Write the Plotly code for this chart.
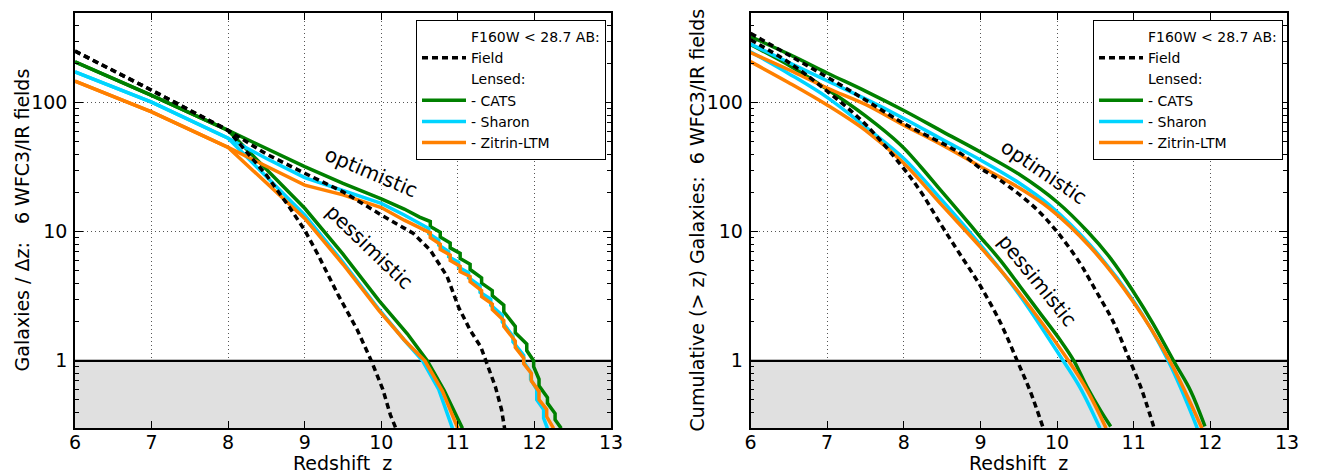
import math
import plotly.graph_objects as go

# ------------------------------------------------------------------
# DATA
# ------------------------------------------------------------------
# ---- Left panel: galaxies per unit redshift (differential) ----
L_field_opt_z = [6, 7, 8, 8.5, 9, 9.5, 10, 10.3, 10.42, 10.64, 10.86, 11.01, 11.16, 11.3, 11.38, 11.49, 11.57, 11.61]
L_field_opt_v = [251, 125, 61, 40, 28.4, 20.4, 13.5, 10.6, 9.7, 7.2, 4.5, 2.6, 1.73, 1.28, 0.95, 0.63, 0.42, 0.3]
L_field_pes_z = [6, 7, 8, 8.5, 8.8, 8.91, 9.0, 9.17, 9.43, 9.69, 9.87, 10.02, 10.12, 10.19]
L_field_pes_v = [251, 125, 61, 27.5, 15.5, 12.2, 10.3, 6.7, 3.3, 1.72, 1.0, 0.6, 0.38, 0.3]

L_cats_opt_z = [6, 7, 8, 8.5, 9, 9.5, 10, 10.3, 10.5, 10.64, 10.64, 10.77, 10.77, 10.9, 10.9, 11.03, 11.03,
                11.16, 11.16, 11.31, 11.31, 11.45, 11.45, 11.6, 11.6, 11.75, 11.75, 11.9, 11.9, 11.99, 11.99,
                12.06, 12.06, 12.17, 12.17, 12.27, 12.27, 12.35]
L_cats_opt_v = [207, 114, 61, 44, 32, 23.7, 18, 15, 13, 12.0, 11.0, 9.9, 9.1, 8.2, 7.5, 6.8, 6.2,
                5.6, 5.1, 4.4, 4.0, 3.5, 3.2, 2.7, 2.4, 1.85, 1.65, 1.35, 1.2, 1.0, 0.9,
                0.72, 0.64, 0.52, 0.47, 0.39, 0.35, 0.3]
L_cats_pes_z = [6, 7, 8, 8.5, 9, 9.5, 9.97, 10.34, 10.6, 10.82, 11.06]
L_cats_pes_v = [207, 114, 61, 30.4, 15.2, 6.7, 2.93, 1.62, 1.0, 0.59, 0.3]

L_sharon_opt_z = [6, 7, 8, 8.5, 9, 9.5, 10, 10.3, 10.5, 10.62, 10.62, 10.75, 10.75, 10.88, 10.88, 11.01, 11.01,
                  11.14, 11.14, 11.29, 11.29, 11.43, 11.43, 11.58, 11.58, 11.72, 11.72, 11.86, 11.86, 11.95, 11.95,
                  12.03, 12.03, 12.12, 12.12, 12.17]
L_sharon_opt_v = [173, 101, 53, 37, 26.3, 21.0, 16.6, 13.5, 11.6, 10.6, 9.7, 8.6, 7.9, 7.0, 6.4, 5.8, 5.3,
                  4.8, 4.4, 3.8, 3.4, 3.0, 2.7, 2.25, 2.0, 1.55, 1.4, 1.1, 0.98, 0.82, 0.72,
                  0.6, 0.5, 0.42, 0.36, 0.3]
L_sharon_pes_z = [6, 7, 8, 8.5, 9, 9.5, 9.97, 10.3, 10.54, 10.75, 10.93]
L_sharon_pes_v = [173, 101, 53, 26.7, 13.5, 5.8, 2.5, 1.45, 1.0, 0.6, 0.3]

L_zitrin_opt_z = [6, 7, 8, 8.5, 9, 9.5, 10, 10.3, 10.5, 10.64, 10.64, 10.77, 10.77, 10.9, 10.9, 11.03, 11.03,
                  11.16, 11.16, 11.31, 11.31, 11.45, 11.45, 11.6, 11.6, 11.75, 11.75, 11.86, 11.86, 11.96, 11.96,
                  12.06, 12.06, 12.16, 12.16, 12.25]
L_zitrin_opt_v = [147, 85, 45, 32, 23, 19.3, 15.4, 12.3, 10.8, 9.8, 9.0, 8.0, 7.3, 6.6, 6.0, 5.4, 4.9,
                  4.5, 4.1, 3.5, 3.15, 2.75, 2.5, 2.05, 1.85, 1.42, 1.27, 1.05, 0.95, 0.8, 0.7,
                  0.58, 0.5, 0.42, 0.37, 0.3]
L_zitrin_pes_z = [6, 7, 8, 8.5, 9, 9.5, 9.97, 10.3, 10.57, 10.8, 11.0]
L_zitrin_pes_v = [147, 85, 45, 24, 12.7, 5.6, 2.45, 1.45, 1.0, 0.58, 0.3]

# ---- Right panel: cumulative (> z) galaxies ----
R_field_opt_z = [6, 6.5, 7, 7.5, 8, 8.74, 9, 9.26, 9.7, 10, 10.3, 10.43, 10.57, 10.69, 10.78, 10.93, 11.09, 11.26]
R_field_opt_v = [345, 234, 158, 105, 69, 40.5, 31, 25, 15.6, 10, 5.7, 4.2, 3.0, 2.25, 1.75, 1.07, 0.63, 0.31]
R_field_pes_z = [6, 6.5, 7, 7.5, 7.96, 8.22, 8.48, 8.74, 9.0, 9.26, 9.48, 9.65, 9.82]
R_field_pes_v = [308, 205, 123, 68, 33, 20.5, 11.5, 6.6, 3.8, 1.98, 1.0, 0.58, 0.3]

R_cats_opt_z = [6, 6.5, 7, 7.5, 8, 8.5, 9, 9.5, 10, 10.4, 10.7, 11.0, 11.25, 11.52, 11.74, 11.93]
R_cats_opt_v = [325, 238, 170, 123, 87, 60, 41.5, 28, 17, 10, 6.2, 3.4, 1.95, 1.0, 0.59, 0.31]
R_cats_pes_z = [6, 6.5, 7, 7.5, 7.96, 8.22, 8.48, 8.74, 9.0, 9.26, 9.52, 9.78, 10.04, 10.22, 10.39, 10.57, 10.7]
R_cats_pes_v = [282, 195, 127, 79, 47, 31.9, 21, 13.9, 9.1, 6.0, 3.75, 2.33, 1.45, 1.0, 0.63, 0.41, 0.31]

R_sharon_opt_z = [6, 6.5, 7, 7.5, 8, 8.5, 9, 9.5, 9.9, 10.43, 11.0, 11.45, 11.83]
R_sharon_opt_v = [285, 205, 148, 107, 75.5, 52, 36, 24, 16.1, 7.9, 2.9, 1.0, 0.3]
R_sharon_pes_z = [6, 6.5, 7, 7.5, 8, 8.5, 9, 9.5, 10.08, 10.3, 10.56]
R_sharon_pes_v = [248, 168, 110, 65, 37, 17.5, 7.9, 3.3, 1.0, 0.62, 0.3]

R_zitrin_opt_z = [6, 6.5, 7, 7.5, 8, 8.5, 9, 9.5, 9.9, 10.43, 10.98, 11.47, 11.89]
R_zitrin_opt_v = [245, 180, 130, 97, 67, 47, 32, 22, 15.2, 7.65, 2.95, 1.0, 0.3]
R_zitrin_pes_z = [6, 6.5, 7, 7.5, 8, 8.5, 9, 9.5, 10.15, 10.4, 10.64]
R_zitrin_pes_v = [208, 143, 96, 61, 34, 16, 7.6, 3.4, 1.0, 0.58, 0.3]

# shaded "fewer than one galaxy" region and the N = 1 line
shade_z = [6, 13, 13, 6]
shade_v = [0.2, 0.2, 1, 1]
one_z = [6, 13]
one_v = [1, 1]

x_range = [6, 13]
y_range = [0.3, 500]
y_tickvals = [1, 10, 100]
y_ticktext = ["1", "10", "100"]
y_minor_vals = [0.3, 0.4, 0.5, 0.6, 0.7, 0.8, 0.9, 2, 3, 4, 5, 6, 7, 8, 9,
                20, 30, 40, 50, 60, 70, 80, 90, 200, 300, 400, 500]

legend_labels = ["F160W < 28.7 AB:", "Field", "Lensed:", "- CATS", "- Sharon", "- Zitrin-LTM"]

# ------------------------------------------------------------------
FONT = "DejaVu Sans"
GREEN = "#008000"
CYAN = "#00d4ff"
ORANGE = "#ff8000"
BLACK = "#000000"
LW = 3.5
DASH = "6px,4px"

# page has an 8px body margin; size the figure so it fits the 1320x476 window
OFF = 8
W, H = 1320 - OFF, 476 - OFF


def px2x(px):
    return (px - OFF) / W


def px2y(py):
    return 1 - (py - OFF) / H


fig = go.Figure()


def add_line(z, v, color, dash, xa, ya, shape="linear"):
    fig.add_trace(go.Scatter(x=z, y=v, mode="lines",
                             line=dict(color=color, width=LW, dash=dash, shape=shape),
                             xaxis=xa, yaxis=ya, showlegend=False, hoverinfo="skip"))


panels = [
    ("x", "y", "linear",
     [(L_cats_opt_z, L_cats_opt_v, GREEN, "solid"), (L_cats_pes_z, L_cats_pes_v, GREEN, "solid"),
      (L_sharon_opt_z, L_sharon_opt_v, CYAN, "solid"), (L_sharon_pes_z, L_sharon_pes_v, CYAN, "solid"),
      (L_zitrin_opt_z, L_zitrin_opt_v, ORANGE, "solid"), (L_zitrin_pes_z, L_zitrin_pes_v, ORANGE, "solid"),
      (L_field_opt_z, L_field_opt_v, BLACK, DASH), (L_field_pes_z, L_field_pes_v, BLACK, DASH)]),
    ("x2", "y2", "spline",
     [(R_cats_opt_z, R_cats_opt_v, GREEN, "solid"), (R_cats_pes_z, R_cats_pes_v, GREEN, "solid"),
      (R_sharon_opt_z, R_sharon_opt_v, CYAN, "solid"), (R_sharon_pes_z, R_sharon_pes_v, CYAN, "solid"),
      (R_zitrin_opt_z, R_zitrin_opt_v, ORANGE, "solid"), (R_zitrin_pes_z, R_zitrin_pes_v, ORANGE, "solid"),
      (R_field_opt_z, R_field_opt_v, BLACK, DASH), (R_field_pes_z, R_field_pes_v, BLACK, DASH)]),
]

legend_styles = [(None, None), (BLACK, DASH), (None, None), (GREEN, "solid"), (CYAN, "solid"), (ORANGE, "solid")]

for i, (xa, ya, shape, series) in enumerate(panels):
    fig.add_trace(go.Scatter(x=shade_z, y=shade_v, fill="toself", fillcolor="#e0e0e0",
                             mode="lines", line=dict(width=0, color="#e0e0e0"),
                             xaxis=xa, yaxis=ya, showlegend=False, hoverinfo="skip"))
    fig.add_trace(go.Scatter(x=one_z, y=one_v, mode="lines", line=dict(color=BLACK, width=2.2),
                             xaxis=xa, yaxis=ya, showlegend=False, hoverinfo="skip"))
    for z, v, c, d in series:
        add_line(z, v, c, d, xa, ya, shape)
    leg = "legend" if i == 0 else "legend2"
    for lab, (c, d) in zip(legend_labels, legend_styles):
        if c is None:
            line = dict(color="rgba(0,0,0,0)", width=LW)
        else:
            line = dict(color=c, width=LW, dash=d)
        fig.add_trace(go.Scatter(x=[None], y=[None], mode="lines", line=line, name=lab,
                                 xaxis=xa, yaxis=ya, legend=leg, showlegend=True))

xdom_L = [px2x(75), px2x(611)]
xdom_R = [px2x(750.5), px2x(1287)]
ydom = [px2y(428.3), px2y(12.5)]

GRID = dict(showgrid=True, gridcolor="#555555", griddash="1px,3px", gridwidth=1)
common_x = dict(range=x_range, tickmode="linear", tick0=6, dtick=1, ticks="inside", ticklen=8, tickwidth=1,
                tickcolor=BLACK, mirror="allticks", showline=True, linecolor=BLACK, linewidth=1.5,
                zeroline=False, automargin=False,
                tickfont=dict(size=19, family=FONT, color=BLACK), ticklabelstandoff=-4, **GRID)
common_y = dict(type="log", range=[math.log10(y_range[0]), math.log10(y_range[1])],
                tickmode="array", tickvals=y_tickvals, ticktext=y_ticktext,
                ticks="inside", ticklen=8, tickwidth=1, tickcolor=BLACK,
                minor=dict(tickmode="array", tickvals=y_minor_vals, ticks="inside", ticklen=4,
                           tickcolor=BLACK, tickwidth=1, showgrid=False),
                mirror="allticks", showline=True, linecolor=BLACK, linewidth=1.5,
                zeroline=False, automargin=False,
                tickfont=dict(size=19, family=FONT, color=BLACK), ticklabelstandoff=2, **GRID)

legend_common = dict(xanchor="right", yanchor="top", bgcolor="white", bordercolor=BLACK, borderwidth=1,
                     font=dict(size=14, family=FONT), itemwidth=44, traceorder="normal", tracegroupgap=0)

fig.update_layout(
    width=W, height=H, autosize=False, margin=dict(l=0, r=0, t=0, b=0, pad=0),
    paper_bgcolor="white", plot_bgcolor="white",
    font=dict(family=FONT, color=BLACK),
    xaxis=dict(domain=xdom_L, anchor="y", **common_x),
    yaxis=dict(domain=ydom, anchor="x", **common_y),
    xaxis2=dict(domain=xdom_R, anchor="y2", **common_x),
    yaxis2=dict(domain=ydom, anchor="x2", **common_y),
    legend=dict(x=px2x(606), y=px2y(20), **legend_common),
    legend2=dict(x=px2x(1283), y=px2y(20), **legend_common),
    showlegend=True,
)

ann = []
ycen = (ydom[0] + ydom[1]) / 2
ann.append(dict(text="Galaxies / \u0394z:\u00a0\u00a0 6 WFC3/IR fields", xref="paper", yref="paper",
                x=px2x(22), y=ycen, xanchor="center", yanchor="middle", textangle=-90, showarrow=False,
                font=dict(size=19, family=FONT)))
ann.append(dict(text="Cumulative (> z) Galaxies:\u00a0 6 WFC3/IR fields", xref="paper", yref="paper",
                x=px2x(697), y=ycen, xanchor="center", yanchor="middle", textangle=-90, showarrow=False,
                font=dict(size=19, family=FONT)))
for xd in (xdom_L, xdom_R):
    ann.append(dict(text="Redshift\u00a0 z", xref="paper", yref="paper", x=(xd[0] + xd[1]) / 2,
                    y=px2y(463), xanchor="center", yanchor="middle", showarrow=False,
                    font=dict(size=19, family=FONT)))
# curve labels
labels = [("optimistic", "x", "y", 9.86, 1.46, 23), ("pessimistic", "x", "y", 9.85, 0.884, 44),
          ("optimistic", "x2", "y2", 9.83, 1.465, 34), ("pessimistic", "x2", "y2", 9.74, 0.626, 51)]
for t, xr, yr, xv, yv, ang in labels:
    ann.append(dict(text=t, xref=xr, yref=yr, x=xv, y=yv, textangle=ang, showarrow=False,
                    xanchor="center", yanchor="middle", font=dict(size=20, family=FONT)))
fig.update_layout(annotations=ann)

fig.write_html("out.html")
